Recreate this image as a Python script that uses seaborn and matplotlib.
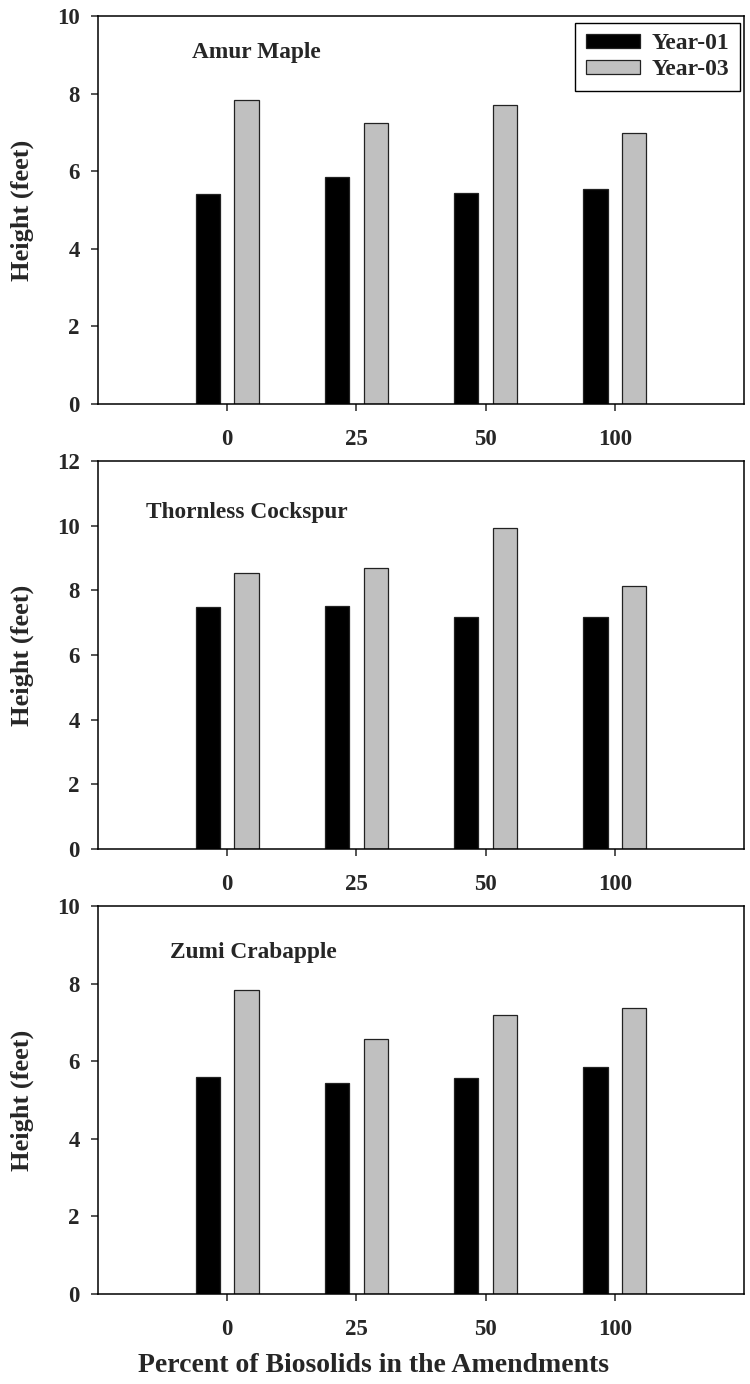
import matplotlib
matplotlib.use("Agg")
import matplotlib.pyplot as plt
import seaborn as sns
import pandas as pd

# ---- data ----
percents = ["0", "25", "50", "100"]
years = ["Year-01", "Year-03"]
species = ["Amur Maple", "Thornless Cockspur", "Zumi Crabapple"]

amur_y01 = [5.40, 5.84, 5.44, 5.53]
amur_y03 = [7.83, 7.24, 7.71, 6.98]
thorn_y01 = [7.49, 7.51, 7.17, 7.18]
thorn_y03 = [8.53, 8.68, 9.92, 8.12]
zumi_y01 = [5.58, 5.44, 5.57, 5.84]
zumi_y03 = [7.84, 6.58, 7.20, 7.38]

ymaxes = [10, 12, 10]
y_label = "Height (feet)"
x_label = "Percent of Biosolids in the Amendments"

series = [(amur_y01, amur_y03), (thorn_y01, thorn_y03), (zumi_y01, zumi_y03)]

sns.set_theme(style="ticks")
plt.rcParams["font.family"] = ["Liberation Serif", "DejaVu Serif"]
plt.rcParams["font.weight"] = "bold"
plt.rcParams["axes.linewidth"] = 1.1

W, H = 750, 1384
fig = plt.figure(figsize=(W / 100, H / 100), dpi=100)

left_px, right_px = 98, 744
tops = [16, 461, 906]
ax_h = 388

title_pos = [(0.1455, 0.907), (0.0743, 0.866), (0.111, 0.881)]

for i, (name, (y1, y3)) in enumerate(zip(species, series)):
    bottom = 1 - (tops[i] + ax_h) / H
    ax = fig.add_axes([left_px / W, bottom, (right_px - left_px) / W, ax_h / H])
    df = pd.DataFrame({
        "Percent": percents * 2,
        "Height": list(y1) + list(y3),
        "Year": [years[0]] * len(percents) + [years[1]] * len(percents),
    })
    sns.barplot(data=df, x="Percent", y="Height", hue="Year",
                order=percents, hue_order=years,
                palette=["black", "#c0c0c0"], width=0.6, gap=0.367,
                edgecolor="#222222", linewidth=0.9, ax=ax)
    ax.set_xlim(-1, 4)
    ax.set_ylim(0, ymaxes[i])
    ax.set_yticks(range(0, ymaxes[i] + 1, 2))
    ax.set_xlabel("")
    ax.set_ylabel(y_label, fontsize=19, fontweight="bold")
    ax.yaxis.set_label_coords(-0.099, 0.5)
    for s in ax.spines.values():
        s.set_visible(True)
        s.set_color("black")
        s.set_linewidth(1.1)
    ax.tick_params(axis="y", direction="out", length=5, width=1.1,
                   labelsize=16.5, pad=8)
    ax.tick_params(axis="x", direction="out", length=5, width=1.1,
                   labelsize=16.5, pad=13)
    for lab in ax.get_xticklabels() + ax.get_yticklabels():
        lab.set_fontweight("bold")
    ax.text(title_pos[i][0], title_pos[i][1], name, transform=ax.transAxes,
            ha="left", va="center", fontsize=16.8, fontweight="bold")
    leg = ax.get_legend()
    if i == 0:
        handles, labels = ax.get_legend_handles_labels()
        ax.legend(handles, labels, loc="upper right",
                  bbox_to_anchor=(0.994, 0.983), borderaxespad=0,
                  fancybox=False, framealpha=1, edgecolor="black",
                  prop={"size": 17, "weight": "bold"},
                  handlelength=2.3, handleheight=0.55, handletextpad=0.5,
                  labelspacing=0.22, borderpad=0.45)
        ax.get_legend().get_frame().set_linewidth(1.0)
    elif leg is not None:
        leg.remove()

fig.text(373 / W, 1 - 1366 / H, x_label, ha="center", va="center",
         fontsize=20, fontweight="bold")

fig.savefig("out.png", dpi=100, facecolor="white")
